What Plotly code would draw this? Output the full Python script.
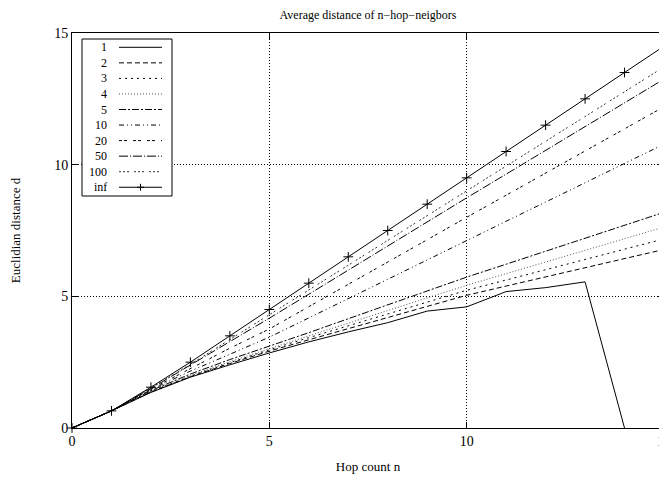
import plotly.graph_objects as go

hops = list(range(16))
series_names = ["1", "2", "3", "4", "5", "10", "20", "50", "100", "inf"]
d1 = [0, 0.65, 1.35, 1.93, 2.40, 2.85, 3.27, 3.65, 4.00, 4.44, 4.60, 5.18, 5.33, 5.55, 0]
d2 = [0, 0.65, 1.37, 1.95, 2.45, 2.92, 3.35, 3.78, 4.20, 4.62, 5.04, 5.39, 5.74, 6.09, 6.44, 6.78]
d3 = [0, 0.65, 1.38, 1.97, 2.48, 2.97, 3.43, 3.88, 4.33, 4.78, 5.23, 5.62, 6.01, 6.40, 6.79, 7.18]
d4 = [0, 0.65, 1.40, 2.00, 2.52, 3.02, 3.50, 3.98, 4.46, 4.94, 5.42, 5.86, 6.30, 6.74, 7.19, 7.63]
d5 = [0, 0.65, 1.42, 2.05, 2.60, 3.10, 3.62, 4.15, 4.68, 5.20, 5.73, 6.22, 6.71, 7.20, 7.70, 8.19]
d10 = [0, 0.65, 1.45, 2.16, 2.80, 3.45, 4.18, 4.92, 5.65, 6.38, 7.12, 7.85, 8.58, 9.31, 10.05, 10.78]
d20 = [0, 0.65, 1.48, 2.27, 3.03, 3.76, 4.60, 5.45, 6.30, 7.15, 8.00, 8.84, 9.68, 10.52, 11.36, 12.20]
d50 = [0, 0.65, 1.50, 2.38, 3.27, 4.17, 5.08, 6.00, 6.91, 7.83, 8.74, 9.64, 10.54, 11.44, 12.35, 13.25]
d100 = [0, 0.65, 1.52, 2.42, 3.36, 4.30, 5.24, 6.18, 7.12, 8.07, 9.02, 9.96, 10.90, 11.84, 12.78, 13.71]
dinf = [0, 0.65, 1.55, 2.50, 3.50, 4.50, 5.50, 6.50, 7.50, 8.50, 9.50, 10.50, 11.50, 12.50, 13.50, 14.50]
all_series = [d1, d2, d3, d4, d5, d10, d20, d50, d100, dinf]
x_ticks = [0, 5, 10, 15]
y_ticks = [0, 5, 10, 15]

dashes = [
    "solid",
    "5px,3px",
    "2px,4px",
    "1px,2px",
    "7px,2px,2px,2px",
    "5px,3px,1px,3px,1px,3px",
    "3px,2px,3px,6px",
    "9px,2px,1px,2px",
    "2px,2px,2px,2px,2px,5px",
    "solid",
]
colors = ["black", "black", "black", "#555", "black", "black", "black", "black", "#333", "black"]

FONT = "Liberation Serif"
W, H = 667, 479
OFF = 8  # page body margin in the screenshot
# plot area in screen pixels: x 72..664, y 33..428
L, T = 72 - OFF, 33 - OFF
R, B = W - (664 - OFF), H - (428 - OFF)
pw, ph = W - L - R, H - T - B

fig = go.Figure()
for name, vals, dash, col in zip(series_names, all_series, dashes, colors):
    is_inf = name == "inf"
    fig.add_trace(go.Scatter(
        x=hops[:len(vals)], y=vals, name=name,
        mode="lines+markers" if is_inf else "lines",
        line=dict(color=col, width=1, dash=dash),
        marker=dict(symbol="cross-thin", size=7, line=dict(color="black", width=1)) if is_inf else None,
        showlegend=False, cliponaxis=False if is_inf else True,
    ))

def px2x(px):
    return (px - OFF - L) / pw

def py2y(py):
    return (H - B - (py - OFF)) / ph

shapes = []
annotations = []
shapes.append(dict(type="rect", xref="paper", yref="paper",
                   x0=px2x(82), x1=px2x(172), y0=py2y(196), y1=py2y(39),
                   line=dict(color="black", width=1), fillcolor="white", layer="above"))
for i, (name, dash, col) in enumerate(zip(series_names, dashes, colors)):
    py = 47.3 + i * 15.55
    shapes.append(dict(type="line", xref="paper", yref="paper",
                       x0=px2x(119), x1=px2x(162), y0=py2y(py), y1=py2y(py),
                       line=dict(color=col, width=1, dash=dash), layer="above"))
    annotations.append(dict(xref="paper", yref="paper", x=px2x(109), y=py2y(py),
                            text=name, showarrow=False, xanchor="right", yanchor="middle",
                            font=dict(family=FONT, size=12, color="black")))
    if name == "inf":
        cx = 140.5
        shapes.append(dict(type="line", xref="paper", yref="paper",
                           x0=px2x(cx - 3.5), x1=px2x(cx + 3.5), y0=py2y(py), y1=py2y(py),
                           line=dict(color="black", width=1), layer="above"))
        shapes.append(dict(type="line", xref="paper", yref="paper",
                           x0=px2x(cx), x1=px2x(cx), y0=py2y(py - 3.5), y1=py2y(py + 3.5),
                           line=dict(color="black", width=1), layer="above"))

axis_common = dict(
    showline=True, linecolor="black", linewidth=1, mirror="ticks",
    ticks="inside", ticklen=6, tickcolor="black", tickwidth=1,
    showgrid=True, gridcolor="black", griddash="1px,2px", gridwidth=1,
    zeroline=False, automargin=False,
    tickfont=dict(family=FONT, size=14, color="black"),
)

fig.update_layout(
    width=W, height=H,
    margin=dict(l=L, r=R, t=T, b=B, autoexpand=False),
    paper_bgcolor="white", plot_bgcolor="white",
    title=dict(text="Average distance of n\u2212hop\u2212neigbors", x=(368 - OFF) / W, xref="container",
               y=1 - (14.5 - OFF) / H, yref="container", xanchor="center", yanchor="middle",
               font=dict(family=FONT, size=12, color="black")),
    xaxis=dict(range=[0, 15], tickvals=x_ticks, ticktext=[str(v) for v in x_ticks],
               title=dict(text="Hop count n", font=dict(family=FONT, size=13, color="black"), standoff=14),
               **axis_common),
    yaxis=dict(range=[0, 15], tickvals=y_ticks, ticktext=[str(v) for v in y_ticks],
               title=dict(text="Euclidian distance d", font=dict(family=FONT, size=13, color="black"), standoff=30),
               **axis_common),
    shapes=shapes, annotations=annotations,
    showlegend=False,
)

fig.write_html("out.html")
